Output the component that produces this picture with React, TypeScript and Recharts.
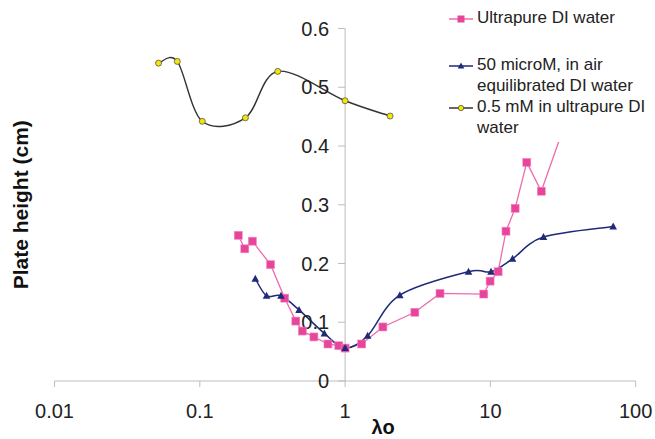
import React from 'react';
import { LineChart, Line, XAxis, YAxis, ReferenceLine, ReferenceDot, Legend } from 'recharts';

// lambda_o values and plate heights
const PURE_X = [0.184, 0.204, 0.23, 0.307, 0.384, 0.458, 0.508, 0.61, 0.762, 0.905, 1.0, 1.3, 1.82, 3.02, 4.5, 9.0, 9.95, 11.3, 12.8, 14.8, 17.8, 22.4, 40];
const PURE_Y = [0.248, 0.225, 0.238, 0.198, 0.141, 0.102, 0.085, 0.075, 0.063, 0.06, 0.056, 0.063, 0.092, 0.117, 0.149, 0.148, 0.17, 0.186, 0.255, 0.294, 0.372, 0.323, 0.5];

const MICRO_X = [0.241, 0.288, 0.362, 0.482, 0.72, 1.0, 1.43, 2.38, 7.07, 10.1, 14.2, 23.2, 70];
const MICRO_Y = [0.174, 0.145, 0.145, 0.121, 0.081, 0.056, 0.077, 0.146, 0.186, 0.186, 0.208, 0.245, 0.263];

const MM_X = [0.052, 0.07, 0.104, 0.206, 0.344, 1.0, 2.04];
const MM_Y = [0.541, 0.544, 0.442, 0.448, 0.527, 0.477, 0.451];

const X_TICKS = [0.01, 0.1, 1, 10, 100];
const Y_TICKS = [0, 0.1, 0.2, 0.3, 0.4, 0.5, 0.6];

const FONT = '"Liberation Sans", Arial, sans-serif';
const PINK = '#e8449b';
const PINK_LINE = '#ef6aae';
const NAVY = '#1f2a78';

const toPoints = (xs: number[], ys: number[]) => xs.map((x, i) => ({ x, y: ys[i] }));
const pureData = toPoints(PURE_X, PURE_Y);
const microData = toPoints(MICRO_X, MICRO_Y);
const mmData = toPoints(MM_X, MM_Y);

// Excel style smoothed line (catmull-rom as bezier segments)
const excelCurve = (context: any) => {
  let pts: number[][] = [];
  return {
    areaStart() {},
    areaEnd() {},
    lineStart() { pts = []; },
    point(x: number, y: number) { pts.push([+x, +y]); },
    lineEnd() {
      if (!pts.length) return;
      context.moveTo(pts[0][0], pts[0][1]);
      for (let i = 0; i < pts.length - 1; i++) {
        const p0 = pts[Math.max(i - 1, 0)];
        const p1 = pts[i];
        const p2 = pts[i + 1];
        const p3 = pts[Math.min(i + 2, pts.length - 1)];
        context.bezierCurveTo(
          p1[0] + (p2[0] - p0[0]) / 6, p1[1] + (p2[1] - p0[1]) / 6,
          p2[0] - (p3[0] - p1[0]) / 6, p2[1] - (p3[1] - p1[1]) / 6,
          p2[0], p2[1]
        );
      }
    },
  };
};

const SquareDot = (props: any) => {
  const { cx, cy, index } = props;
  if (cx == null || cy == null) return <g key={index} />;
  return <rect key={index} x={cx - 4} y={cy - 4} width={8} height={8} fill={PINK} stroke="#f08cc0" strokeWidth={0.6} />;
};

const TriangleDot = (props: any) => {
  const { cx, cy, index } = props;
  if (cx == null || cy == null) return <g key={index} />;
  return <path key={index} d={`M${cx},${cy - 4}L${cx + 3.8},${cy + 3}L${cx - 3.8},${cy + 3}Z`} fill={NAVY} />;
};

const CircleDot = (props: any) => {
  const { cx, cy, index } = props;
  if (cx == null || cy == null) return <g key={index} />;
  return <circle key={index} cx={cx} cy={cy} r={3} fill="#f3e600" stroke="#555" strokeWidth={0.8} />;
};

const legendItems = [
  { lines: ['Ultrapure DI water'], top: 8, color: PINK_LINE, marker: 'square' },
  { lines: ['50 microM, in air', 'equilibrated DI water'], top: 55, color: NAVY, marker: 'triangle' },
  { lines: ['0.5 mM in ultrapure DI', 'water'], top: 97, color: '#333', marker: 'circle' },
];

const LegendMarker = ({ marker, color }: { marker: string; color: string }) => (
  <svg width={24} height={10} style={{ position: 'absolute', left: 9, top: 6 }}>
    <line x1={0} y1={5} x2={24} y2={5} stroke={color} strokeWidth={1.5} />
    {marker === 'square' && <rect x={8.5} y={1.5} width={7} height={7} fill={PINK} />}
    {marker === 'triangle' && <path d="M12,1.5L15.3,7.5L8.7,7.5Z" fill={NAVY} />}
    {marker === 'circle' && <circle cx={12} cy={5} r={2.7} fill="#f3e600" stroke="#555" strokeWidth={0.8} />}
  </svg>
);

const renderLegend = () => (
  <div style={{ position: 'relative', width: 215, height: 142, background: '#fff', fontFamily: FONT, fontSize: 17, color: '#222' }}>
    {legendItems.map((item) => (
      <div key={item.lines[0]} style={{ position: 'absolute', top: item.top, left: 0, width: 215 }}>
        <LegendMarker marker={item.marker} color={item.color} />
        {item.lines.map((t, i) => (
          <div key={t} style={{ position: 'absolute', left: 37, top: i * 21 - 1, whiteSpace: 'nowrap', lineHeight: '22px' }}>{t}</div>
        ))}
      </div>
    ))}
  </div>
);

const App = () => {
  return (
    <div style={{ position: 'absolute', left: 0, top: 0, background: '#fff' }}>
      <LineChart width={655} height={439} margin={{ top: 28.5, right: 19.3, bottom: 18, left: 0.5 }}>
        <XAxis
          type="number"
          dataKey="x"
          scale="log"
          domain={[0.01, 100]}
          ticks={X_TICKS}
          allowDataOverflow
          height={40}
          stroke="#bdbdbd"
          tickSize={6}
          tickMargin={17}
          tickFormatter={(v: number) => String(v)}
          tick={{ fill: '#222', fontSize: 20, fontFamily: FONT }}
          label={(props: any) => {
            const vb = props.viewBox;
            return (
              <text x={vb.x + vb.width / 2 + 38} y={434} textAnchor="middle" fontFamily={FONT} fontWeight="bold" fontSize={20} fill="#111">λo</text>
            );
          }}
        />
        <YAxis
          type="number"
          domain={[0, 0.6]}
          ticks={Y_TICKS}
          width={54}
          axisLine={false}
          tickLine={false}
          tick={false}
          label={(props: any) => {
            const vb = props.viewBox;
            const cy = vb.y + vb.height / 2;
            return (
              <text x={28} y={cy} transform={`rotate(-90, 28, ${cy})`} textAnchor="middle" fontFamily={FONT} fontWeight="bold" fontSize={21} fill="#111">Plate height (cm)</text>
            );
          }}
        />
        <ReferenceLine x={1} stroke="#bdbdbd" strokeWidth={1} ifOverflow="visible" />
        {Y_TICKS.map((v) => (
          <ReferenceDot
            key={v}
            x={1}
            y={v}
            r={0}
            ifOverflow="visible"
            shape={(p: any) => (
              <g>
                <line x1={p.cx - 7} y1={p.cy} x2={p.cx} y2={p.cy} stroke="#bdbdbd" />
                <text x={p.cx - 16} y={p.cy} dy="0.36em" textAnchor="end" fontFamily={FONT} fontSize={20} fill="#222">{String(v)}</text>
              </g>
            )}
          />
        ))}
        <Line data={pureData} dataKey="y" type="linear" stroke={PINK_LINE} strokeWidth={1.3} dot={SquareDot} activeDot={false} isAnimationActive={false} />
        <Line data={microData} dataKey="y" type={excelCurve as any} stroke={NAVY} strokeWidth={1.5} dot={TriangleDot} activeDot={false} isAnimationActive={false} />
        <Line data={mmData} dataKey="y" type={excelCurve as any} stroke="#333" strokeWidth={1.4} dot={CircleDot} activeDot={false} isAnimationActive={false} />
        <Legend
          layout="vertical"
          align="center"
          verticalAlign="middle"
          content={renderLegend}
          wrapperStyle={{ left: 440, top: 0, width: 215, height: 142 }}
        />
      </LineChart>
    </div>
  );
};

export default App;
